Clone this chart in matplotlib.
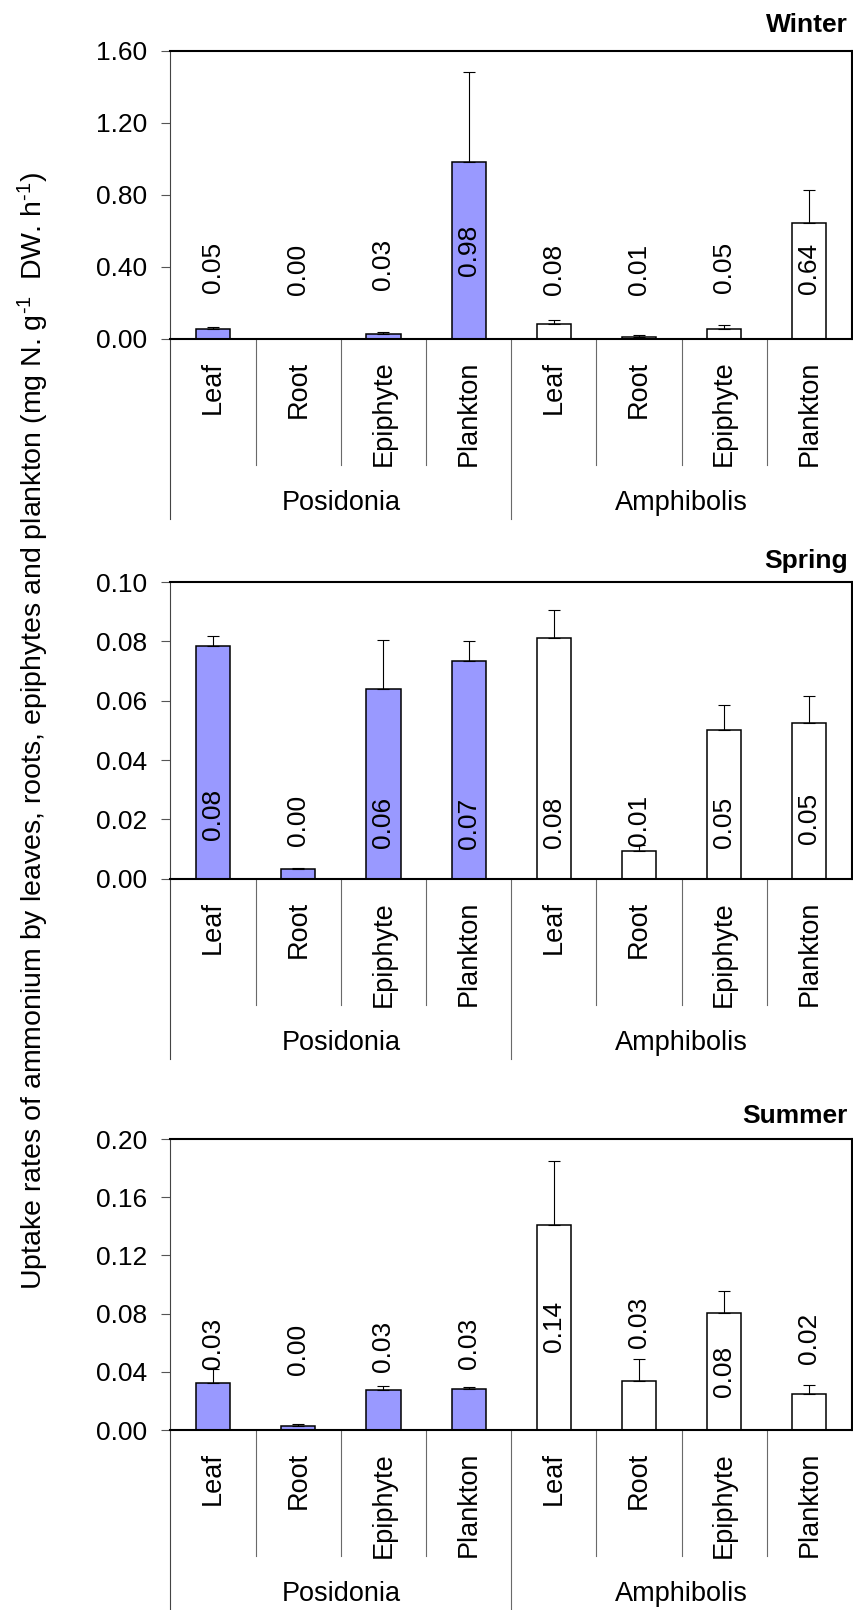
import matplotlib
matplotlib.use("Agg")
import matplotlib.pyplot as plt
from matplotlib.transforms import blended_transform_factory
import numpy as np

plt.rcParams['font.family'] = ['Liberation Sans', 'DejaVu Sans']
plt.rcParams['mathtext.fontset'] = 'custom'
plt.rcParams['mathtext.rm'] = 'Liberation Sans'
plt.rcParams['mathtext.it'] = 'Liberation Sans:italic'
plt.rcParams['mathtext.bf'] = 'Liberation Sans:bold'

# ---------------- data ----------------
categories = ["Leaf", "Root", "Epiphyte", "Plankton"]
groups = ["Posidonia", "Amphibolis"]
seasons = ["Winter", "Spring", "Summer"]

winter_posidonia = [0.054, 0.001, 0.026, 0.981]
winter_amphibolis = [0.083, 0.009, 0.052, 0.644]
winter_posidonia_err = [0.013, 0.0, 0.009, 0.504]
winter_amphibolis_err = [0.021, 0.011, 0.022, 0.181]

spring_posidonia = [0.0785, 0.0033, 0.0640, 0.0735]
spring_amphibolis = [0.0812, 0.0095, 0.0501, 0.0526]
spring_posidonia_err = [0.0033, 0.0005, 0.0165, 0.0065]
spring_amphibolis_err = [0.0095, 0.0020, 0.0083, 0.0089]

summer_posidonia = [0.0325, 0.0029, 0.0272, 0.0284]
summer_amphibolis = [0.1410, 0.0337, 0.0802, 0.0246]
summer_posidonia_err = [0.0092, 0.0012, 0.0027, 0.0012]
summer_amphibolis_err = [0.0438, 0.0152, 0.0155, 0.0065]

winter_yticks = [0.00, 0.40, 0.80, 1.20, 1.60]
spring_yticks = [0.00, 0.02, 0.04, 0.06, 0.08, 0.10]
summer_yticks = [0.00, 0.04, 0.08, 0.12, 0.16, 0.20]

ylabel = ("Uptake rates of ammonium by leaves, roots, epiphytes and plankton "
          "(mg N. g$^{\\text{-1}}$  DW. h$^{\\text{-1}}$)")

# ---------------- layout / style ----------------
W, H = 854, 1610
DPI = 100
FS = 19
FS_CAT = 19.5
FS_YLAB = 20.5
pos_color = "#9999FF"
amp_color = "#FFFFFF"
sep_color = "#6a6a6a"

# axes boxes in pixels (top, bottom)
panel_px = [(51, 338.7), (582, 878.8), (1139, 1430)]
left_px, right_px = 170.5, 852.0
# value label vertical centers (axes fraction)
label_frac = [
    [0.248, 0.242, 0.257, 0.308, 0.242, 0.242, 0.248, 0.245],
    [0.217, 0.197, 0.191, 0.188, 0.191, 0.197, 0.191, 0.203],
    [0.298, 0.277, 0.286, 0.298, 0.355, 0.370, 0.201, 0.316],
]
title_baseline_px = [31.7, 568, 1123]

panels = [
    (winter_posidonia, winter_amphibolis, winter_posidonia_err, winter_amphibolis_err, winter_yticks),
    (spring_posidonia, spring_amphibolis, spring_posidonia_err, spring_amphibolis_err, spring_yticks),
    (summer_posidonia, summer_amphibolis, summer_posidonia_err, summer_amphibolis_err, summer_yticks),
]

fig = plt.figure(figsize=(W / DPI, H / DPI), dpi=DPI)

for i, (pv, av, pe, ae, yt) in enumerate(panels):
    top, bot = panel_px[i]
    ax_h = (bot - top)
    ax = fig.add_axes([left_px / W, 1 - bot / H, (right_px - left_px) / W, ax_h / H])
    vals = list(pv) + list(av)
    errs = list(pe) + list(ae)
    colors = [pos_color] * len(pv) + [amp_color] * len(av)
    x = np.arange(len(vals))
    ax.bar(x, vals, width=0.4, color=colors, edgecolor="black", linewidth=1.1, zorder=2)
    ax.errorbar(x, vals, yerr=[np.zeros(len(vals)), errs], fmt="none", ecolor="black",
                elinewidth=0.8, capsize=4.3, capthick=0.8, zorder=3)
    ax.set_xlim(-0.5, len(vals) - 0.5)
    ax.set_ylim(yt[0], yt[-1])
    ax.set_yticks(yt)
    ax.set_yticklabels([f"{t:.2f}" for t in yt], fontsize=FS)
    ax.set_xticks([])
    ax.tick_params(axis="y", direction="out", length=6.5, width=0.8, color="#555555", pad=10)
    for s in ["top", "right", "bottom"]:
        ax.spines[s].set_linewidth(1.5)
        ax.spines[s].set_color("black")
    ax.spines["left"].set_linewidth(0.8)
    ax.spines["left"].set_color("#444444")

    # value labels
    for j, v in enumerate(vals):
        ax.text(x[j], label_frac[i][j], f"{v:.2f}", rotation=90, ha="center", va="center",
                fontsize=FS, transform=blended_transform_factory(ax.transData, ax.transAxes),
                zorder=4)

    # category area below axis
    tr = blended_transform_factory(ax.transData, ax.transAxes)
    f = lambda px: -px / ax_h
    for k in range(len(vals) - 1):
        xs = k + 0.5
        if (k + 1) % len(categories) == 0:
            ax.plot([xs, xs], [0, f(180)], color=sep_color, lw=0.8, transform=tr, clip_on=False)
        else:
            ax.plot([xs, xs], [0, f(126)], color=sep_color, lw=0.8, transform=tr, clip_on=False)
    ax.plot([-0.5, -0.5], [0, f(180)], color="#444444", lw=0.8, transform=tr, clip_on=False)
    for j in range(len(vals)):
        ax.text(x[j], f(22), categories[j % len(categories)], rotation=90, ha="center", va="top",
                fontsize=FS_CAT, transform=tr)
    for g, name in enumerate(groups):
        cx = g * len(categories) + (len(categories) - 1) / 2
        ax.text(cx, f(164), name, ha="center", va="center", fontsize=FS_CAT, transform=tr)

    fig.text(848 / W, 1 - title_baseline_px[i] / H, seasons[i], ha="right", va="baseline",
             fontsize=FS, fontweight="bold")

fig.text(33 / W, 1 - 731 / H, ylabel, rotation=90, ha="center", va="center", fontsize=FS_YLAB)

fig.savefig("out.png", dpi=DPI)
